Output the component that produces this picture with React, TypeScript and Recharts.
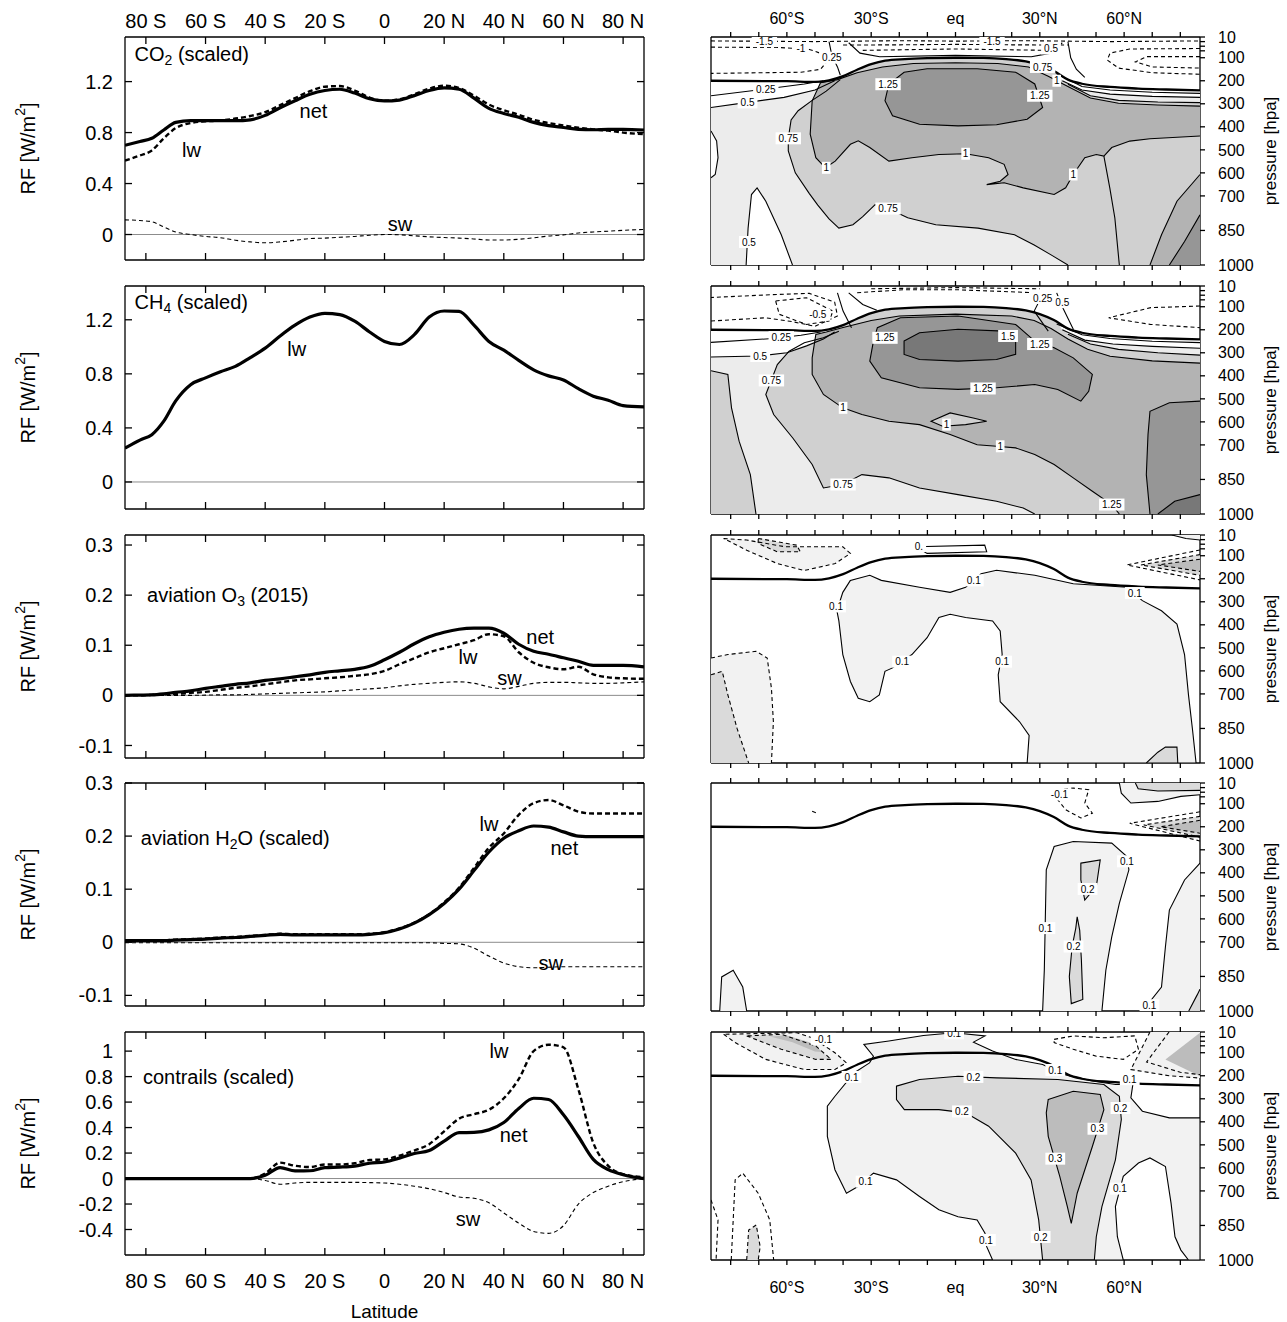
import React from "react";
import { ComposedChart, Line, Scatter, XAxis, YAxis, ReferenceLine } from "recharts";

const FONT = '"Liberation Sans", Arial, Helvetica, sans-serif';

// ---------- left column: zonal mean RF (W/m2) ----------
const LAT = [-87, -82, -78, -74, -70, -65, -60, -55, -50, -45, -40, -35, -30, -25, -20, -15, -10, -5, 0, 5, 10, 15, 20, 25, 30, 35, 40, 45, 50, 55, 60, 65, 70, 75, 80, 87];

const co2Net = [0.7, 0.73, 0.755, 0.82, 0.88, 0.893, 0.893, 0.893, 0.893, 0.9, 0.935, 0.995, 1.05, 1.1, 1.13, 1.14, 1.11, 1.065, 1.048, 1.055, 1.09, 1.13, 1.15, 1.14, 1.07, 0.99, 0.95, 0.92, 0.88, 0.855, 0.84, 0.825, 0.822, 0.825, 0.825, 0.82];
const co2Lw = [0.58, 0.62, 0.66, 0.755, 0.835, 0.875, 0.888, 0.895, 0.91, 0.93, 0.96, 1.015, 1.07, 1.125, 1.16, 1.165, 1.13, 1.075, 1.05, 1.06, 1.1, 1.145, 1.168, 1.15, 1.09, 1.02, 0.975, 0.94, 0.9, 0.875, 0.855, 0.838, 0.825, 0.815, 0.8, 0.787];
const co2Sw = [0.115, 0.11, 0.1, 0.06, 0.02, 0.0, -0.015, -0.025, -0.045, -0.058, -0.065, -0.058, -0.045, -0.032, -0.028, -0.022, -0.015, -0.006, 0.0, -0.002, -0.01, -0.018, -0.024, -0.028, -0.035, -0.043, -0.043, -0.037, -0.026, -0.012, -0.003, 0.012, 0.02, 0.026, 0.033, 0.04];

const ch4Lw = [0.25, 0.31, 0.35, 0.45, 0.6, 0.72, 0.77, 0.815, 0.855, 0.92, 0.99, 1.08, 1.16, 1.22, 1.248, 1.238, 1.19, 1.11, 1.04, 1.017, 1.09, 1.22, 1.265, 1.262, 1.16, 1.04, 0.975, 0.9, 0.83, 0.785, 0.755, 0.69, 0.635, 0.605, 0.565, 0.556];

const o3Net = [0, 0.0005, 0.001, 0.003, 0.006, 0.009, 0.014, 0.018, 0.022, 0.025, 0.03, 0.033, 0.037, 0.041, 0.046, 0.049, 0.052, 0.058, 0.071, 0.086, 0.103, 0.117, 0.126, 0.132, 0.134, 0.134, 0.124, 0.102, 0.088, 0.082, 0.075, 0.068, 0.06, 0.06, 0.06, 0.057];
const o3Lw = [0, 0, 0.001, 0.002, 0.003, 0.005, 0.007, 0.011, 0.015, 0.018, 0.022, 0.026, 0.03, 0.032, 0.034, 0.036, 0.039, 0.042, 0.049, 0.062, 0.074, 0.086, 0.094, 0.102, 0.11, 0.122, 0.118, 0.086, 0.065, 0.056, 0.052, 0.057, 0.042, 0.036, 0.034, 0.033];
const o3Sw = [0, 0, 0, 0, 0, 0, 0.0005, 0.001, 0.001, 0.002, 0.003, 0.004, 0.005, 0.006, 0.007, 0.009, 0.011, 0.013, 0.015, 0.019, 0.022, 0.024, 0.026, 0.027, 0.024, 0.017, 0.013, 0.018, 0.024, 0.026, 0.026, 0.025, 0.024, 0.024, 0.025, 0.027];

const h2oNet = [0.003, 0.003, 0.003, 0.003, 0.004, 0.005, 0.006, 0.008, 0.009, 0.011, 0.013, 0.015, 0.014, 0.014, 0.014, 0.014, 0.014, 0.015, 0.018, 0.025, 0.036, 0.052, 0.073, 0.1, 0.135, 0.17, 0.196, 0.21, 0.219, 0.217, 0.208, 0.2, 0.199, 0.199, 0.199, 0.199];
const h2oLw = [0.004, 0.004, 0.004, 0.004, 0.005, 0.006, 0.007, 0.009, 0.01, 0.012, 0.014, 0.016, 0.015, 0.015, 0.015, 0.015, 0.015, 0.016, 0.019, 0.026, 0.037, 0.053, 0.075, 0.103, 0.14, 0.178, 0.205, 0.24, 0.262, 0.268, 0.258, 0.246, 0.2425, 0.2425, 0.2425, 0.2425];
const h2oSw = [-0.001, -0.001, -0.001, -0.001, -0.001, -0.001, -0.001, -0.001, -0.001, -0.001, -0.001, -0.001, -0.001, -0.001, -0.001, -0.001, -0.001, -0.001, -0.001, -0.001, -0.001, -0.001, -0.002, -0.003, -0.011, -0.026, -0.039, -0.046, -0.048, -0.047, -0.046, -0.046, -0.046, -0.046, -0.046, -0.046];

const conNet = [0, 0, 0, 0, 0, 0, 0, 0, 0, 0, 0.025, 0.086, 0.06, 0.061, 0.086, 0.09, 0.098, 0.12, 0.13, 0.16, 0.196, 0.22, 0.294, 0.36, 0.362, 0.382, 0.44, 0.55, 0.63, 0.62, 0.5, 0.33, 0.15, 0.07, 0.03, 0];
const conLw = [0, 0, 0, 0, 0, 0, 0, 0, 0, 0, 0.04, 0.125, 0.1, 0.09, 0.11, 0.11, 0.12, 0.145, 0.15, 0.18, 0.22, 0.27, 0.37, 0.47, 0.505, 0.54, 0.63, 0.78, 1.0, 1.05, 1.03, 0.7, 0.28, 0.1, 0.035, 0.01];
const conSw = [0, 0, 0, 0, 0, 0, 0, 0, 0, 0, -0.015, -0.045, -0.035, -0.03, -0.03, -0.03, -0.03, -0.032, -0.035, -0.045, -0.06, -0.08, -0.11, -0.145, -0.155, -0.19, -0.27, -0.35, -0.415, -0.43, -0.37, -0.2, -0.11, -0.06, -0.025, 0];

const LAT_TICKS = [-80, -60, -40, -20, 0, 20, 40, 60, 80];

type Note = { lat: number; v: number; text: string; sub?: string; rest?: string; title?: boolean };

const co2Notes: Note[] = [
  { lat: -83.8, v: 1.42, text: "CO", sub: "2", rest: " (scaled)", title: true },
  { lat: -23.8, v: 0.97, text: "net" },
  { lat: -64.7, v: 0.66, text: "lw" },
  { lat: 5.2, v: 0.085, text: "sw" },
];
const ch4Notes: Note[] = [
  { lat: -83.8, v: 1.33, text: "CH", sub: "4", rest: " (scaled)", title: true },
  { lat: -29.4, v: 0.985, text: "lw" },
];
const o3Notes: Note[] = [
  { lat: -79.6, v: 0.2, text: "aviation O", sub: "3", rest: " (2015)", title: true },
  { lat: 52.2, v: 0.117, text: "net" },
  { lat: 28, v: 0.077, text: "lw" },
  { lat: 41.9, v: 0.034, text: "sw" },
];
const h2oNotes: Note[] = [
  { lat: -81.7, v: 0.197, text: "aviation H", sub: "2", rest: "O (scaled)", title: true },
  { lat: 35, v: 0.222, text: "lw" },
  { lat: 60.3, v: 0.178, text: "net" },
  { lat: 55.7, v: -0.039, text: "sw" },
];
const conNotes: Note[] = [
  { lat: -81, v: 0.8, text: "contrails (scaled)", title: true },
  { lat: 38.4, v: 1.0, text: "lw" },
  { lat: 43.3, v: 0.34, text: "net" },
  { lat: 28, v: -0.32, text: "sw" },
];

// ---------- right column: latitude / pressure sections ----------
type Pt = [number, number]; // [latitude, pressure hPa]
type Patch = { level: number; pts: Pt[] };
type Iso = { level: number; pts: Pt[]; ring?: boolean };
type Tag = { lat: number; p: number; text: string };

const DEG_TICKS = [-80, -70, -60, -50, -40, -30, -20, -10, 0, 10, 20, 30, 40, 50, 60, 70, 80];
const P_TICKS = [10, 30, 50, 70, 100, 200, 300, 400, 500, 600, 700, 850, 1000];
const P_LABELS = [10, 100, 200, 300, 400, 500, 600, 700, 850, 1000];

const TROPO: Pt[] = [[-87, 200], [-60, 202], [-50, 205], [-45, 198], [-40, 180], [-35, 152], [-30, 128], [-25, 113], [-18, 106], [-10, 102], [0, 100], [10, 101], [18, 106], [25, 116], [30, 132], [35, 158], [40, 195], [45, 213], [55, 227], [65, 234], [75, 238], [87, 242]];
const TROPO_R: Pt[] = [[36, 165], [40, 195], [45, 213], [55, 227], [65, 234], [75, 238], [87, 242]];
const TROPO_L: Pt[] = [[-87, 200], [-60, 202], [-50, 205], [-45, 198], [-41, 186]];

// CO2
const co2C025L: Pt[] = [[-87, 265], [-67.5, 236], [-53.8, 214], [-47, 200]];
const co2C050L: Pt[] = [[-87, 316], [-74, 294], [-61, 272], [-50, 240], [-43, 200]];
const co2C075L: Pt[] = [[-41, 195], [-46, 245], [-51, 285], [-56, 330], [-58.5, 370], [-59.5, 450], [-59.5, 505], [-57, 600], [-52, 690], [-49, 740], [-45, 800], [-41.5, 840], [-36.5, 825], [-33, 790], [-28.6, 738], [-24, 755], [-17, 795], [-7, 825], [8, 840], [21, 869], [28, 913], [34, 956], [40, 1000]];
const co2C025R: Pt[] = [[36, 170], [45, 225], [55, 240], [70, 250], [87, 255]];
const co2C050R: Pt[] = [[38, 200], [45, 240], [55, 258], [70, 268], [87, 272]];
const co2C075R: Pt[] = [[40, 215], [48, 265], [58, 285], [72, 292], [87, 295]];
const co2C100: Pt[] = [[87, 310], [72, 305], [58, 298], [48, 275], [40, 225], [33, 180], [26, 140], [15, 125], [0, 122], [-15, 125], [-26, 140], [-35, 165], [-42, 195], [-48, 208], [-51, 287], [-51.7, 432], [-49.7, 534], [-46.3, 578], [-42.8, 549], [-37.4, 476], [-34.6, 461], [-30.5, 490], [-23.7, 549], [-15.5, 534], [-5.9, 520], [3.6, 517], [11.8, 534], [17.3, 563], [18.7, 607], [15.9, 636], [11.1, 651], [17.3, 643], [24.1, 665], [35.1, 694], [39.2, 665], [41.9, 607], [46, 534], [50.1, 520], [52.8, 527], [55.6, 490], [62, 462], [69.2, 452], [87, 440]];
const co2C125: Pt[] = [[-25.1, 287], [-23.7, 214], [-18.3, 163], [-10.1, 148], [7.7, 148], [21.4, 163], [28.2, 214], [31, 316], [25.5, 367], [14.6, 391], [0.9, 396], [-12.8, 389], [-22.4, 352]];
const co2Bump: Pt[] = [[-74.5, 1000], [-73.8, 840], [-72.6, 694], [-70.6, 665], [-67.5, 723], [-62, 869], [-58, 1000]];
const co2Bulge: Pt[] = [[-87, 418], [-85, 461], [-84.5, 534], [-85.5, 607], [-87, 621]];
const co2CornerA: Pt[] = [[87, 607], [78.8, 723], [73.3, 869], [69.2, 1000]];
const co2CornerB: Pt[] = [[87, 782], [81.5, 898], [76.1, 1000]];
const co2Tail: Pt[] = [[52.8, 527], [54.9, 665], [56.7, 796], [58.3, 1000]];

const co2Patches: Patch[] = [
  { level: 0.75, pts: [...TROPO, [87, 1000], [-87, 1000]] },
  { level: 0.5, pts: [...TROPO_R, ...[...co2C075R].reverse()] },
  { level: 0.25, pts: [...TROPO_R, ...[...co2C050R].reverse()] },
  { level: 0.5, pts: [...co2C050L, ...co2C075L, [-87, 1000]] },
  { level: 0.25, pts: [...TROPO_L, ...[...co2C050L].reverse()] },
  { level: 0.25, pts: co2Bump },
  { level: 0.25, pts: co2Bulge },
  { level: 1, pts: co2C100 },
  { level: 1, pts: [...co2CornerA, [87, 1000]] },
  { level: 1.25, pts: [...co2CornerB, [87, 1000]] },
  { level: 1.25, pts: co2C125 },
];
const co2Isos: Iso[] = [
  { level: 0.25, pts: co2C025L },
  { level: 0.5, pts: co2C050L },
  { level: 0.75, pts: co2C075L },
  { level: 0.25, pts: co2C025R },
  { level: 0.5, pts: co2C050R },
  { level: 0.75, pts: co2C075R },
  { level: 1, pts: co2C100 },
  { level: 1.25, pts: co2C125, ring: true },
  { level: 0.5, pts: co2Bump },
  { level: 0.5, pts: co2Bulge },
  { level: 1, pts: co2CornerA },
  { level: 1.25, pts: co2CornerB },
  { level: 1, pts: co2Tail },
  { level: -1.5, pts: [[-87, 27], [-50, 30], [-20, 26], [0, 28], [25, 26], [55, 30], [87, 27]] },
  { level: -1, pts: [[-87, 54], [-62, 56], [-52, 64], [-47, 85], [-46, 120], [-48, 150], [-55, 163], [-87, 168]] },
  { level: -1, pts: [[87, 60], [62, 62], [55, 80], [54, 110], [58, 145], [70, 165], [87, 172]] },
  { level: -0.5, pts: [[87, 95], [68, 95], [64, 118], [70, 140], [87, 145]] },
  { level: -0.5, pts: [[-40, 45], [-20, 44], [0, 42], [20, 44], [40, 45]] },
  { level: -0.25, pts: [[-33, 68], [0, 62], [33, 68]] },
  { level: 0.25, pts: [[-45, 30], [-44, 90], [-42, 140], [-41, 175]] },
  { level: 0.5, pts: [[-38, 35], [-34, 80], [-27, 96], [0, 90], [27, 96], [34, 80], [38, 35]] },
  { level: 0.25, pts: [[40, 30], [41, 100], [43, 150], [46, 185]] },
];
const co2Tags: Tag[] = [
  { lat: -24, p: 215, text: "1.25" }, { lat: 30, p: 265, text: "1.25" }, { lat: 36, p: 200, text: "1" },
  { lat: 31, p: 140, text: "0.75" }, { lat: -46, p: 578, text: "1" }, { lat: -59.5, p: 450, text: "0.75" },
  { lat: 3.6, p: 517, text: "1" }, { lat: 41.9, p: 607, text: "1" }, { lat: -24, p: 755, text: "0.75" },
  { lat: -73.5, p: 900, text: "0.5" }, { lat: -67.5, p: 236, text: "0.25" }, { lat: -74, p: 294, text: "0.5" },
  { lat: -68, p: 28, text: "-1.5" }, { lat: -55, p: 60, text: "-1" }, { lat: 13, p: 27, text: "-1.5" },
  { lat: 34, p: 60, text: "0.5" }, { lat: -44, p: 100, text: "0.25" },
];

// CH4
const ch4C025L: Pt[] = [[-87, 255], [-65, 238], [-55, 224], [-48, 210]];
const ch4C050L: Pt[] = [[-87, 318], [-70, 314], [-60, 300], [-53, 270], [-47, 240], [-43, 210]];
const ch4C075L: Pt[] = [[-41.5, 206], [-47, 235], [-53.8, 256], [-59.2, 293], [-63.4, 351], [-67.5, 481], [-64.7, 568], [-57.9, 670], [-51, 785], [-47, 887], [-40.1, 872], [-33.3, 829], [-23.7, 843], [-12.8, 887], [0.9, 916], [14.6, 945], [24.1, 974], [28.2, 1000]];
const ch4Strip: Pt[] = [[-87, 378], [-81, 394], [-79.7, 539], [-77, 684], [-73, 829], [-71, 1000]];
const ch4C025R: Pt[] = [[36, 175], [45, 222], [55, 238], [70, 250], [87, 256]];
const ch4C050R: Pt[] = [[38, 200], [46, 245], [56, 262], [70, 272], [87, 280]];
const ch4C075R: Pt[] = [[40, 220], [48, 262], [58, 285], [72, 300], [87, 310]];
const ch4C100: Pt[] = [[87, 345], [70, 335], [55, 315], [47, 285], [40, 240], [34, 195], [28, 160], [20, 140], [0, 132], [-20, 140], [-30, 160], [-40, 190], [-46, 210], [-49.7, 220], [-51, 322], [-51, 394], [-47, 481], [-40.1, 539], [-33.3, 568], [-23.7, 597], [-12.8, 612], [-1.9, 655], [7.7, 699], [14.6, 706], [21.4, 713], [28.2, 742], [35.1, 785], [41.9, 843], [48.7, 901], [55.6, 959], [58.3, 1000]];
const ch4Island: Pt[] = [[-8.7, 597], [-1.9, 561], [6.3, 583], [11.1, 597], [3.6, 612], [-4.6, 619]];
const ch4C125: Pt[] = [[-29.2, 249], [-30.5, 336], [-26.4, 409], [-12.8, 452], [0.9, 459], [14.6, 452], [28.2, 438], [36.4, 459], [44.6, 510], [47.4, 467], [48.7, 394], [41.9, 322], [35.1, 278], [28.2, 249], [21.4, 177], [0.9, 140], [-19.6, 148], [-27.8, 191]];
const ch4C150: Pt[] = [[-18.3, 249], [-12.8, 213], [0.9, 198], [17.3, 206], [21.4, 249], [21.4, 307], [14.6, 329], [0.9, 336], [-12.8, 329], [-18.3, 307]];
const ch4RightA: Pt[] = [[87, 510], [76.1, 517], [69.2, 554], [68.5, 655], [67.9, 829], [69.2, 1000]];
const ch4RightB: Pt[] = [[87, 916], [78, 945], [72, 1000]];

const ch4Patches: Patch[] = [
  { level: 0.75, pts: [...TROPO, [87, 1000], [-87, 1000]] },
  { level: 0.5, pts: [...ch4C050L, ...ch4C075L, [-71, 1000], ...[...ch4Strip].reverse().slice(1)] },
  { level: 0.25, pts: [...TROPO_L, ...[...ch4C050L].reverse()] },
  { level: 0.5, pts: [...TROPO_R, ...[...ch4C075R].reverse()] },
  { level: 0.25, pts: [...TROPO_R, ...[...ch4C050R].reverse()] },
  { level: 1, pts: [...ch4C100, [87, 1000]] },
  { level: 0.75, pts: ch4Island },
  { level: 1.25, pts: [...ch4RightA, [87, 1000]] },
  { level: 1.5, pts: [...ch4RightB, [87, 1000]] },
  { level: 1.25, pts: ch4C125 },
  { level: 1.5, pts: ch4C150 },
];
const ch4Isos: Iso[] = [
  { level: 0.25, pts: ch4C025L },
  { level: 0.5, pts: ch4C050L },
  { level: 0.75, pts: ch4C075L },
  { level: 0.75, pts: ch4Strip },
  { level: 0.25, pts: ch4C025R },
  { level: 0.5, pts: ch4C050R },
  { level: 0.75, pts: ch4C075R },
  { level: 1, pts: ch4C100 },
  { level: 1, pts: ch4Island, ring: true },
  { level: 1.25, pts: ch4C125, ring: true },
  { level: 1.5, pts: ch4C150, ring: true },
  { level: 1.25, pts: ch4RightA },
  { level: 1.5, pts: ch4RightB },
  { level: -0.5, pts: [[-64, 75], [-53, 61], [-43.6, 119], [-45, 162], [-53, 177], [-62.7, 133]], ring: true },
  { level: -0.25, pts: [[-87, 162], [-67.5, 148], [-58, 165], [-50, 185], [-42, 140], [-43, 80], [-52, 42], [-66, 48], [-87, 60]] },
  { level: -0.25, pts: [[87, 97], [69.5, 104], [54.5, 148], [69.5, 177], [87, 191]] },
  { level: -0.75, pts: [[-35, 39], [-18, 26], [0, 26], [28, 39], [37, 68]] },
  { level: -1, pts: [[-30, 22], [0, 17], [30, 22]] },
  { level: 0.25, pts: [[-42, 40], [-40, 119], [-37, 191]] },
  { level: 0.5, pts: [[-38, 40], [-33, 90], [-28, 115]] },
  { level: 0.25, pts: [[31, 46], [28, 119], [33, 206]] },
  { level: 0.5, pts: [[36, 40], [38, 100], [42, 200]] },
];
const ch4Tags: Tag[] = [
  { lat: -25.1, p: 235, text: "1.25" }, { lat: 18.7, p: 227, text: "1.5" }, { lat: 30, p: 262, text: "1.25" },
  { lat: 9.8, p: 455, text: "1.25" }, { lat: -40, p: 539, text: "1" }, { lat: -3.2, p: 612, text: "1" },
  { lat: 15.9, p: 706, text: "1" }, { lat: -65.5, p: 420, text: "0.75" }, { lat: -40, p: 872, text: "0.75" },
  { lat: -69.5, p: 314, text: "0.5" }, { lat: -62, p: 232, text: "0.25" }, { lat: 55.6, p: 959, text: "1.25" },
  { lat: -49, p: 135, text: "-0.5" }, { lat: 38, p: 80, text: "0.5" }, { lat: 31, p: 62, text: "0.25" },
];

// aviation O3
const o3C01: Pt[] = [[-37.4, 207], [-40.1, 259], [-42.2, 339], [-41.5, 383], [-40.1, 529], [-37.4, 646], [-34.6, 719], [-30.5, 734], [-27.1, 704], [-25.1, 602], [-22.4, 587], [-15.5, 529], [-10.1, 456], [-5.9, 368], [-1.9, 354], [3.6, 368], [13.2, 383], [15.9, 427], [16.6, 529], [15.2, 617], [15.9, 734], [22.8, 821], [26.2, 880], [25.5, 1000], [85.6, 1000], [84.3, 851], [82.9, 704], [81.5, 529], [78.8, 397], [73.3, 339], [66.5, 295], [61, 237], [41.9, 222], [28.2, 185], [14.6, 163], [9.1, 178], [3.6, 237], [-1.9, 259], [-12.8, 237], [-26.4, 207], [-30.5, 185]];
const o3Blob: Pt[] = [[67.9, 1000], [72, 953], [74.7, 931], [78.8, 931], [79.1, 1000]];
const o3LB1: Pt[] = [[-87, 544], [-81, 529], [-71, 515], [-67, 544], [-65.5, 675], [-64.8, 821], [-65.5, 1000]];
const o3LB2: Pt[] = [[-87, 617], [-83, 602], [-81, 704], [-77.7, 851], [-73.6, 1000]];
const o3TL1: Pt[] = [[-82.5, 25], [-74.3, 32], [-60.6, 61], [-40.1, 61], [-37.4, 90], [-42.8, 134], [-53.8, 164], [-63.4, 134], [-74.3, 76]];
const o3TL2: Pt[] = [[-70.2, 25], [-56.5, 54], [-55.2, 83], [-63.4, 83], [-70.2, 47]];
const o3TopLoop: Pt[] = [[-14.1, 61], [10.4, 54], [11.1, 83], [-10.1, 90]];
const o3TR1: Pt[] = [[87, 75], [61, 140], [87, 205]];
const o3TR2: Pt[] = [[87, 95], [66, 140], [87, 185]];
const o3TR3: Pt[] = [[87, 115], [72, 140], [87, 168]];
const o3Corner: Pt[] = [[77, 10], [82, 25], [87, 32]];

const o3Patches: Patch[] = [
  { level: 0.1, pts: o3C01 },
  { level: 0.2, pts: o3Blob },
  { level: -0.1, pts: [...o3LB1, [-87, 1000]] },
  { level: -0.2, pts: [...o3LB2, [-87, 1000]] },
  { level: -0.1, pts: o3TL1 },
  { level: -0.2, pts: o3TL2 },
  { level: -0.2, pts: o3TR2 },
  { level: -0.3, pts: o3TR3 },
  { level: 0.1, pts: [...o3Corner, [87, 10]] },
];
const o3Isos: Iso[] = [
  { level: 0.1, pts: o3C01, ring: true },
  { level: 0.2, pts: o3Blob },
  { level: -0.1, pts: o3LB1 },
  { level: -0.2, pts: o3LB2 },
  { level: -0.1, pts: o3TL1, ring: true },
  { level: -0.2, pts: o3TL2, ring: true },
  { level: 0.1, pts: o3TopLoop, ring: true },
  { level: -0.1, pts: o3TR1 },
  { level: -0.2, pts: o3TR2 },
  { level: -0.3, pts: o3TR3 },
  { level: 0.1, pts: o3Corner },
];
const o3Tags: Tag[] = [
  { lat: -42.5, p: 320, text: "0.1" }, { lat: -19, p: 560, text: "0.1" }, { lat: 6.5, p: 207, text: "0.1" },
  { lat: 16.6, p: 560, text: "0.1" }, { lat: 63.8, p: 262, text: "0.1" }, { lat: -13, p: 58, text: "0." },
];

// aviation H2O
const h2oC01: Pt[] = [[31, 1000], [31.6, 823], [32.3, 387], [35.1, 286], [41.9, 264], [55.6, 271], [61, 329], [61.7, 387], [58.3, 533], [55.6, 678], [53.5, 823], [52.1, 1000]];
const h2oC02a: Pt[] = [[44.6, 358], [51.5, 344], [50.1, 460], [46, 518], [44.6, 431]];
const h2oC02b: Pt[] = [[43.3, 591], [44.2, 650], [44.8, 780], [45.3, 950], [41.2, 968], [40.5, 850], [41.5, 720], [42.8, 640]];
const h2oC01R: Pt[] = [[87, 358], [81.5, 431], [76.1, 562], [74.7, 721], [73.3, 896], [66.5, 1000]];
const h2oC02R: Pt[] = [[83, 1000], [86, 930], [87, 905]];
const h2oBump: Pt[] = [[-83.9, 1000], [-83.2, 852], [-79.1, 823], [-75.7, 896], [-74.3, 1000]];
const h2oTR1: Pt[] = [[58.3, 10], [59, 54], [62.4, 97], [72, 90], [80.2, 68], [87, 61]];
const h2oTR2: Pt[] = [[64, 10], [65, 35], [72, 45], [87, 42]];
const h2oNeg: Pt[] = [[33.7, 46], [41.9, 32], [47.4, 39], [46, 97], [48.7, 141], [44.6, 162], [39.2, 126], [36.4, 83]];
const h2oV1: Pt[] = [[87, 135], [62, 185], [87, 262]];
const h2oV2: Pt[] = [[87, 155], [67, 192], [87, 245]];
const h2oV3: Pt[] = [[87, 172], [73, 200], [87, 228]];

const h2oPatches: Patch[] = [
  { level: 0.1, pts: h2oC01 },
  { level: 0.2, pts: h2oC02a },
  { level: 0.2, pts: h2oC02b },
  { level: 0.1, pts: [...h2oC01R, [87, 1000]] },
  { level: 0.2, pts: [...h2oC02R, [87, 1000]] },
  { level: 0.1, pts: h2oBump },
  { level: 0.1, pts: [...h2oTR1, [87, 10]] },
  { level: 0.2, pts: [...h2oTR2, [87, 10]] },
  { level: -0.2, pts: h2oV2 },
  { level: -0.3, pts: h2oV3 },
];
const h2oIsos: Iso[] = [
  { level: 0.1, pts: h2oC01 },
  { level: 0.2, pts: h2oC02a, ring: true },
  { level: 0.2, pts: h2oC02b, ring: true },
  { level: 0.1, pts: h2oC01R },
  { level: 0.2, pts: h2oC02R },
  { level: 0.1, pts: h2oBump },
  { level: 0.1, pts: h2oTR1 },
  { level: 0.2, pts: h2oTR2 },
  { level: -0.1, pts: h2oNeg, ring: true },
  { level: -0.1, pts: h2oV1 },
  { level: -0.2, pts: h2oV2 },
  { level: -0.3, pts: h2oV3 },
  { level: -0.1, pts: [[-51, 133], [-49, 143]] },
];
const h2oTags: Tag[] = [
  { lat: 61, p: 350, text: "0.1" }, { lat: 47, p: 470, text: "0.2" }, { lat: 32, p: 640, text: "0.1" },
  { lat: 42, p: 720, text: "0.2" }, { lat: 69, p: 975, text: "0.1" }, { lat: 37, p: 60, text: "-0.1" },
];

// contrails
const conC01: Pt[] = [[-30.6, 144], [-36, 187], [-42.9, 289], [-45.6, 332], [-45.6, 463], [-42.9, 608], [-38.8, 710], [-34.7, 681], [-29.2, 623], [-21, 652], [-12.8, 724], [-5.9, 782], [0.9, 812], [7.7, 826], [10.5, 884], [11.1, 942], [13.2, 1000], [59.7, 1000], [57.6, 899], [56.9, 768], [59.7, 637], [65.1, 579], [69.2, 557], [74.7, 594], [76.7, 753], [78.1, 899], [80.2, 957], [82.9, 1000], [87, 1000], [87, 383], [76.1, 383], [66.5, 354], [62.4, 296], [63.1, 238], [57, 238], [48.7, 223], [38.5, 194], [31, 151], [21.4, 129], [13.2, 93], [6.4, 54], [10.5, 27], [-0.5, 13], [-11.4, 25], [-23.7, 49], [-32.6, 64], [-29.2, 115]];
const conC02: Pt[] = [[-21, 245], [-12.8, 216], [0.9, 202], [14.6, 209], [36.4, 216], [52.8, 238], [58.3, 289], [59, 390], [56.9, 565], [52.1, 768], [50.1, 899], [49.4, 1000], [31, 1000], [29.6, 826], [26.9, 652], [21.4, 536], [11.8, 419], [3.6, 361], [-5.9, 347], [-18.2, 347], [-21, 303]];
const conC03: Pt[] = [[33, 303], [41.9, 267], [51.5, 281], [52.8, 347], [48.7, 507], [43.3, 710], [41.2, 841], [39.8, 768], [37.1, 637], [33, 463], [32.3, 361]];
const conTL1: Pt[] = [[-82.5, 20], [-78.4, 56], [-67.5, 129], [-53.8, 173], [-42.9, 173], [-38.8, 144], [-42.9, 100], [-51, 35], [-56.5, 13]];
const conTL2: Pt[] = [[-74.3, 27], [-62, 85], [-49.7, 129], [-44.2, 129], [-49.7, 71], [-62, 20]];
const conTL3: Pt[] = [[-66, 30], [-58, 55], [-50, 95], [-47, 98], [-52, 55], [-60, 25]];
const conTR: Pt[] = [[35.1, 42], [41.9, 27], [52.8, 35], [63.8, 27], [65.1, 85], [59.7, 129], [50.1, 115], [41.9, 85], [35.1, 56]];
const conTRa: Pt[] = [[69.2, 10], [62.4, 173], [76, 200], [87, 210]];
const conTRb: Pt[] = [[76, 10], [68, 140], [80, 185], [87, 195]];
const conTRc: Pt[] = [[87, 13], [74.7, 129], [87, 202]];
const conLB1: Pt[] = [[-79.8, 1000], [-78.4, 652], [-75.7, 623], [-70.2, 710], [-66.1, 826], [-64.7, 1000]];
const conLB2: Pt[] = [[-74.3, 1000], [-73.6, 870], [-70.9, 848], [-69.5, 942], [-70.2, 1000]];
const conLE: Pt[] = [[-87, 739], [-84.5, 826], [-85.2, 1000]];

const conPatches: Patch[] = [
  { level: 0.1, pts: conC01 },
  { level: 0.2, pts: conC02 },
  { level: 0.3, pts: conC03 },
  { level: -0.1, pts: conTL1 },
  { level: -0.2, pts: conTL2 },
  { level: -0.3, pts: conTL3 },
  { level: -0.1, pts: [...conTRa, [87, 10]] },
  { level: -0.3, pts: conTRc },
  { level: -0.2, pts: conLB2 },
];
const conIsos: Iso[] = [
  { level: 0.1, pts: conC01, ring: true },
  { level: 0.2, pts: conC02, ring: true },
  { level: 0.3, pts: conC03, ring: true },
  { level: -0.1, pts: conTL1, ring: true },
  { level: -0.2, pts: conTL2, ring: true },
  { level: -0.1, pts: conTR, ring: true },
  { level: -0.1, pts: conTRa },
  { level: -0.2, pts: conTRb },
  { level: -0.1, pts: conLB1 },
  { level: -0.2, pts: conLB2 },
  { level: -0.1, pts: conLE },
];
const conTags: Tag[] = [
  { lat: -0.5, p: 16, text: "0.1" }, { lat: -47, p: 40, text: "-0.1" }, { lat: -37, p: 205, text: "0.1" },
  { lat: 6.4, p: 205, text: "0.2" }, { lat: 2.3, p: 355, text: "0.2" }, { lat: -32, p: 660, text: "0.1" },
  { lat: 10.8, p: 913, text: "0.1" }, { lat: 30.3, p: 900, text: "0.2" }, { lat: 35.5, p: 560, text: "0.3" },
  { lat: 50.5, p: 430, text: "0.3" }, { lat: 58.7, p: 340, text: "0.2" }, { lat: 58.5, p: 690, text: "0.1" },
  { lat: 35.5, p: 175, text: "0.1" }, { lat: 62, p: 215, text: "0.1" },
];

// ---------- drawing helpers ----------
const HIGH_SHADES: Record<string, string> = { "0.25": "#ffffff", "0.5": "#ececec", "0.75": "#d0d0d0", "1": "#b3b3b3", "1.25": "#969696", "1.5": "#787878" };
const LOW_SHADES: Record<string, string> = { "0.1": "#f2f2f2", "0.2": "#dadada", "0.3": "#bcbcbc", "0.4": "#9e9e9e" };

const fmtLat = (v: number) => (v === 0 ? "0" : v < 0 ? `${-v} S` : `${v} N`);
const fmtDeg = (v: number) => (v === 0 ? "eq" : Math.abs(v) % 30 === 0 ? `${Math.abs(v)}°${v < 0 ? "S" : "N"}` : "");
const blankFmt = () => "";
const toRows = (pts: Pt[]) => pts.map(([lat, p]) => ({ lat, p }));

const Blank = () => <g />;

function NoteMark(props: any) {
  const { cx, cy, payload } = props;
  return (
    <text x={cx} y={cy} textAnchor={payload.title ? "start" : "middle"} dominantBaseline="central" fontSize={20} fontFamily={FONT} fill="#000">
      {payload.text}
      {payload.sub ? <tspan dy={6} fontSize={14}>{payload.sub}</tspan> : null}
      {payload.rest ? <tspan dy={payload.sub ? -6 : 0}>{payload.rest}</tspan> : null}
    </text>
  );
}

function TagMark(props: any) {
  const { cx, cy, payload } = props;
  const w = payload.text.length * 5.6 + 3;
  return (
    <g>
      <rect x={cx - w / 2} y={cy - 6} width={w} height={12} fill="#fff" />
      <text x={cx} y={cy + 3.6} textAnchor="middle" fontSize={10} fontFamily={FONT} fill="#000">{payload.text}</text>
    </g>
  );
}

function RFLabel(props: any) {
  const { viewBox } = props;
  const x = viewBox.x + 28;
  const y = viewBox.y + viewBox.height / 2;
  return (
    <text x={x} y={y} transform={`rotate(-90 ${x} ${y})`} textAnchor="middle" dominantBaseline="central" fontSize={20} fontFamily={FONT} fill="#000">
      RF [W/m<tspan dy={-8} fontSize={14}>2</tspan><tspan dy={8}>]</tspan>
    </text>
  );
}

function LatitudeLabel(props: any) {
  const { viewBox } = props;
  return (
    <text x={viewBox.x + viewBox.width / 2} y={viewBox.y + 56} textAnchor="middle" dominantBaseline="central" fontSize={19} fontFamily={FONT} fill="#000">
      Latitude
    </text>
  );
}

function PressureLabel(props: any) {
  const { viewBox } = props;
  const x = viewBox.x + 70;
  const y = viewBox.y + viewBox.height / 2;
  return (
    <text x={x} y={y} transform={`rotate(-90 ${x} ${y})`} textAnchor="middle" dominantBaseline="central" fontSize={17} fontFamily={FONT} fill="#000">
      pressure [hpa]
    </text>
  );
}

const leftTick = { fill: "#000", fontSize: 20, fontFamily: FONT };
const rightTick = { fill: "#000", fontSize: 16, fontFamily: FONT };
const axisStroke = { stroke: "#000", strokeWidth: 1.3 };

type RFProps = {
  top: number; net?: number[]; lw: number[]; sw?: number[]; domain: [number, number]; ticks: number[];
  notes: Note[]; showTop?: boolean; showBottom?: boolean;
};

function RFPanel({ top, net, lw, sw, domain, ticks, notes, showTop, showBottom }: RFProps) {
  const plotH = 223;
  const topH = 30;
  const botH = showBottom ? 75 : 30;
  const data = LAT.map((lat, i) => ({ lat, net: net ? net[i] : null, lw: lw[i], sw: sw ? sw[i] : null }));
  return (
    <div style={{ position: "absolute", left: 0, top: top - topH }}>
      <ComposedChart width={654} height={plotH + topH + botH} data={data} margin={{ top: 0, right: 0, bottom: 0, left: 0 }}>
        <XAxis xAxisId="b" type="number" dataKey="lat" domain={[-87, 87]} allowDataOverflow ticks={LAT_TICKS} interval={0}
          height={botH} tickSize={-7} tickMargin={26} axisLine={axisStroke} tickLine={axisStroke} tick={leftTick}
          tickFormatter={showBottom ? fmtLat : blankFmt} label={showBottom ? <LatitudeLabel /> : undefined} />
        <XAxis xAxisId="t" orientation="top" type="number" dataKey="lat" domain={[-87, 87]} allowDataOverflow ticks={LAT_TICKS} interval={0}
          height={topH} tickSize={-7} tickMargin={16} axisLine={axisStroke} tickLine={axisStroke} tick={leftTick}
          tickFormatter={showTop ? fmtLat : blankFmt} />
        <YAxis yAxisId="l" type="number" dataKey="v" domain={domain} allowDataOverflow ticks={ticks} interval={0}
          width={125} tickSize={-7} tickMargin={19} axisLine={axisStroke} tickLine={axisStroke} tick={leftTick} label={<RFLabel />} />
        <YAxis yAxisId="r" orientation="right" type="number" dataKey="v" domain={domain} allowDataOverflow ticks={ticks} interval={0}
          width={10} tickSize={-7} axisLine={axisStroke} tickLine={axisStroke} tickFormatter={blankFmt} />
        <ReferenceLine xAxisId="b" yAxisId="l" y={0} stroke="#8c8c8c" strokeWidth={1} />
        {sw ? (
          <Line xAxisId="b" yAxisId="l" dataKey="sw" type="monotone" stroke="#000" strokeWidth={1.1} strokeDasharray="4 3" dot={false} isAnimationActive={false} />
        ) : null}
        <Line xAxisId="b" yAxisId="l" dataKey="lw" type="monotone" stroke="#000" strokeWidth={net ? 2.4 : 3.2} strokeDasharray={net ? "5 3" : undefined} dot={false} isAnimationActive={false} />
        {net ? (
          <Line xAxisId="b" yAxisId="l" dataKey="net" type="monotone" stroke="#000" strokeWidth={3.2} dot={false} isAnimationActive={false} />
        ) : null}
        <Scatter xAxisId="b" yAxisId="l" data={notes} shape={NoteMark} isAnimationActive={false} />
      </ComposedChart>
    </div>
  );
}

type ZProps = { top: number; patches: Patch[]; isos: Iso[]; tags: Tag[]; shades: Record<string, string>; showTop?: boolean; showBottom?: boolean };

function ZonalPanel({ top, patches, isos, tags, shades, showTop, showBottom }: ZProps) {
  const plotH = 228;
  const topH = 30;
  const botH = showBottom ? 40 : 30;
  return (
    <div style={{ position: "absolute", left: 706, top: top - topH }}>
      <ComposedChart width={579} height={plotH + topH + botH} margin={{ top: 0, right: 0, bottom: 0, left: 5 }}>
        <XAxis xAxisId="b" type="number" dataKey="lat" domain={[-87, 87]} allowDataOverflow ticks={DEG_TICKS} interval={0}
          height={botH} tickSize={5} tickMargin={17} axisLine={axisStroke} tickLine={axisStroke} tick={rightTick}
          tickFormatter={showBottom ? fmtDeg : blankFmt} />
        <XAxis xAxisId="t" orientation="top" type="number" dataKey="lat" domain={[-87, 87]} allowDataOverflow ticks={DEG_TICKS} interval={0}
          height={topH} tickSize={5} tickMargin={8} axisLine={axisStroke} tickLine={axisStroke} tick={rightTick}
          tickFormatter={showTop ? fmtDeg : blankFmt} />
        <YAxis yAxisId="p" orientation="right" type="number" dataKey="p" domain={[10, 1000]} reversed allowDataOverflow ticks={P_TICKS} interval={0}
          width={85} tickSize={5} tickMargin={13} axisLine={axisStroke} tickLine={axisStroke} tick={rightTick}
          tickFormatter={(v: number) => (P_LABELS.includes(v) ? String(v) : "")} label={<PressureLabel />} />
        {patches.map((f, i) => (
          <Scatter key={`f${i}`} xAxisId="b" yAxisId="p" data={toRows(f.pts)} shape={Blank}
            line={{ fill: shades[String(Math.abs(f.level))], stroke: "none" }} lineJointType="linearClosed" isAnimationActive={false} />
        ))}
        {isos.map((c, i) => (
          <Scatter key={`c${i}`} xAxisId="b" yAxisId="p" data={toRows(c.pts)} shape={Blank}
            line={c.level < 0
              ? { fill: "none", stroke: "#000", strokeWidth: 1.1, strokeDasharray: "4 3" }
              : { fill: "none", stroke: "#000", strokeWidth: 1.1 }}
            lineJointType={c.ring ? "linearClosed" : "linear"} isAnimationActive={false} />
        ))}
        <Scatter xAxisId="b" yAxisId="p" data={toRows(TROPO)} shape={Blank}
          line={{ fill: "none", stroke: "#000", strokeWidth: 2.3 }} lineJointType="monotoneX" isAnimationActive={false} />
        <Scatter xAxisId="b" yAxisId="p" data={tags} shape={TagMark} isAnimationActive={false} />
        <ReferenceLine xAxisId="b" yAxisId="p" x={-87} stroke="#000" strokeWidth={1.3} />
      </ComposedChart>
    </div>
  );
}

const TOPS = [37, 286, 535, 783, 1032];

export default function App() {
  return (
    <div style={{ position: "absolute", left: 0, top: 0, width: 1287, height: 1322, background: "#fff", fontFamily: FONT }}>
      <RFPanel top={TOPS[0]} net={co2Net} lw={co2Lw} sw={co2Sw} domain={[-0.2, 1.55]} ticks={[0, 0.4, 0.8, 1.2]} notes={co2Notes} showTop />
      <RFPanel top={TOPS[1]} lw={ch4Lw} domain={[-0.2, 1.45]} ticks={[0, 0.4, 0.8, 1.2]} notes={ch4Notes} />
      <RFPanel top={TOPS[2]} net={o3Net} lw={o3Lw} sw={o3Sw} domain={[-0.125, 0.32]} ticks={[-0.1, 0, 0.1, 0.2, 0.3]} notes={o3Notes} />
      <RFPanel top={TOPS[3]} net={h2oNet} lw={h2oLw} sw={h2oSw} domain={[-0.12, 0.3]} ticks={[-0.1, 0, 0.1, 0.2, 0.3]} notes={h2oNotes} />
      <RFPanel top={TOPS[4]} net={conNet} lw={conLw} sw={conSw} domain={[-0.6, 1.15]} ticks={[-0.4, -0.2, 0, 0.2, 0.4, 0.6, 0.8, 1]} notes={conNotes} showBottom />

      <ZonalPanel top={TOPS[0]} patches={co2Patches} isos={co2Isos} tags={co2Tags} shades={HIGH_SHADES} showTop />
      <ZonalPanel top={TOPS[1]} patches={ch4Patches} isos={ch4Isos} tags={ch4Tags} shades={HIGH_SHADES} />
      <ZonalPanel top={TOPS[2]} patches={o3Patches} isos={o3Isos} tags={o3Tags} shades={LOW_SHADES} />
      <ZonalPanel top={TOPS[3]} patches={h2oPatches} isos={h2oIsos} tags={h2oTags} shades={LOW_SHADES} />
      <ZonalPanel top={TOPS[4]} patches={conPatches} isos={conIsos} tags={conTags} shades={LOW_SHADES} showBottom />
    </div>
  );
}
